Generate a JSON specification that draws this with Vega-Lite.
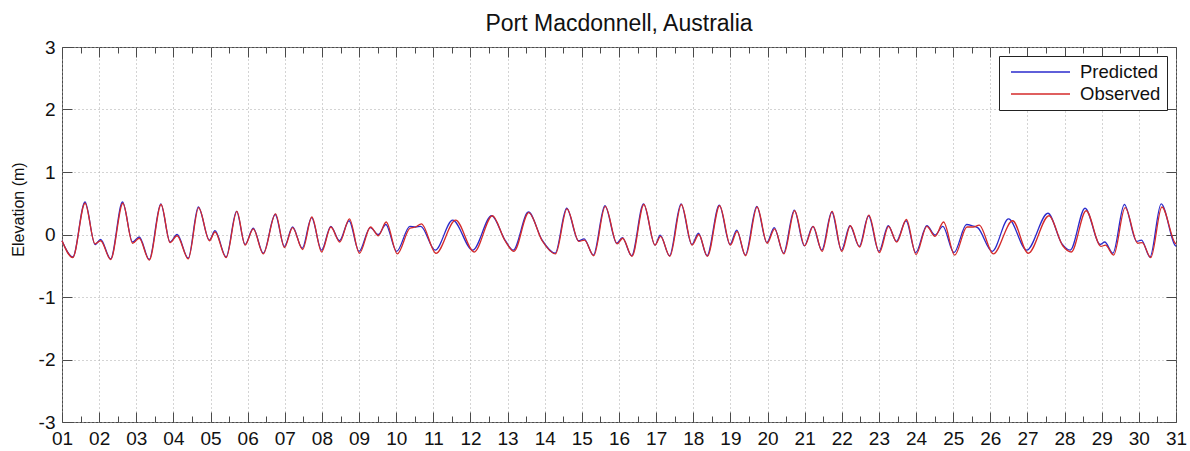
{
  "$schema": "https://vega.github.io/schema/vega-lite/v6.json",
  "width": 1114,
  "height": 375,
  "autosize": {"type": "none"},
  "padding": {"left": 62, "top": 47, "right": 14, "bottom": 29},
  "background": "white",
  "title": {"text": "Port Macdonnell, Australia", "fontSize": 23, "font": "Liberation Sans", "fontWeight": "normal", "color": "#111111", "offset": 2, "anchor": "middle", "frame": "group"},
  "config": {
    "font": "Liberation Sans",
    "view": {"stroke": "#4a4a4a", "strokeWidth": 1}
  },
  "datasets": {
    "pred": [
      {"t": 1.00, "v": -0.10}, {"t": 1.29, "v": -0.36}, {"t": 1.62, "v": 0.52}, {"t": 1.89, "v": -0.16}, {"t": 2.04, "v": -0.08},
      {"t": 2.31, "v": -0.39}, {"t": 2.63, "v": 0.52}, {"t": 2.90, "v": -0.12}, {"t": 3.08, "v": -0.04}, {"t": 3.35, "v": -0.40},
      {"t": 3.66, "v": 0.49}, {"t": 3.91, "v": -0.12}, {"t": 4.10, "v": 0.00}, {"t": 4.40, "v": -0.38}, {"t": 4.67, "v": 0.44},
      {"t": 4.97, "v": -0.09}, {"t": 5.12, "v": 0.06}, {"t": 5.42, "v": -0.36}, {"t": 5.70, "v": 0.37}, {"t": 5.93, "v": -0.16},
      {"t": 6.15, "v": 0.10}, {"t": 6.42, "v": -0.30}, {"t": 6.74, "v": 0.32}, {"t": 6.99, "v": -0.19}, {"t": 7.21, "v": 0.12},
      {"t": 7.47, "v": -0.22}, {"t": 7.72, "v": 0.27}, {"t": 7.99, "v": -0.25}, {"t": 8.24, "v": 0.13}, {"t": 8.47, "v": -0.10},
      {"t": 8.73, "v": 0.22}, {"t": 9.00, "v": -0.27}, {"t": 9.30, "v": 0.11}, {"t": 9.52, "v": 0.00}, {"t": 9.72, "v": 0.16},
      {"t": 10.01, "v": -0.27}, {"t": 10.37, "v": 0.13}, {"t": 10.52, "v": 0.12}, {"t": 10.66, "v": 0.13}, {"t": 11.05, "v": -0.25},
      {"t": 11.52, "v": 0.23}, {"t": 12.06, "v": -0.25}, {"t": 12.57, "v": 0.30}, {"t": 12.93, "v": -0.09}, {"t": 13.15, "v": -0.25},
      {"t": 13.56, "v": 0.36}, {"t": 13.93, "v": -0.09}, {"t": 14.28, "v": -0.30}, {"t": 14.59, "v": 0.42}, {"t": 14.91, "v": -0.10},
      {"t": 15.06, "v": -0.07}, {"t": 15.31, "v": -0.33}, {"t": 15.62, "v": 0.46}, {"t": 15.94, "v": -0.14}, {"t": 16.09, "v": -0.05},
      {"t": 16.34, "v": -0.34}, {"t": 16.66, "v": 0.49}, {"t": 16.97, "v": -0.17}, {"t": 17.11, "v": -0.01}, {"t": 17.36, "v": -0.34},
      {"t": 17.67, "v": 0.49}, {"t": 17.96, "v": -0.16}, {"t": 18.14, "v": 0.02}, {"t": 18.37, "v": -0.34}, {"t": 18.70, "v": 0.47},
      {"t": 18.99, "v": -0.16}, {"t": 19.17, "v": 0.07}, {"t": 19.40, "v": -0.33}, {"t": 19.71, "v": 0.45}, {"t": 19.98, "v": -0.13},
      {"t": 20.18, "v": 0.11}, {"t": 20.43, "v": -0.30}, {"t": 20.72, "v": 0.39}, {"t": 20.99, "v": -0.18}, {"t": 21.22, "v": 0.13},
      {"t": 21.46, "v": -0.25}, {"t": 21.73, "v": 0.36}, {"t": 21.99, "v": -0.25}, {"t": 22.22, "v": 0.14}, {"t": 22.47, "v": -0.19},
      {"t": 22.72, "v": 0.30}, {"t": 23.00, "v": -0.27}, {"t": 23.25, "v": 0.14}, {"t": 23.47, "v": -0.11}, {"t": 23.73, "v": 0.22},
      {"t": 23.99, "v": -0.29}, {"t": 24.29, "v": 0.14}, {"t": 24.51, "v": -0.01}, {"t": 24.72, "v": 0.13}, {"t": 25.02, "v": -0.29},
      {"t": 25.36, "v": 0.16}, {"t": 25.52, "v": 0.14}, {"t": 25.66, "v": 0.11}, {"t": 26.05, "v": -0.27}, {"t": 26.49, "v": 0.25},
      {"t": 26.98, "v": -0.25}, {"t": 27.55, "v": 0.34}, {"t": 27.93, "v": -0.15}, {"t": 28.15, "v": -0.25}, {"t": 28.55, "v": 0.42},
      {"t": 28.96, "v": -0.16}, {"t": 29.08, "v": -0.12}, {"t": 29.30, "v": -0.30}, {"t": 29.61, "v": 0.48}, {"t": 29.94, "v": -0.11},
      {"t": 30.07, "v": -0.09}, {"t": 30.30, "v": -0.36}, {"t": 30.60, "v": 0.49}, {"t": 30.97, "v": -0.17}, {"t": 31.00, "v": -0.19}
    ],
    "obs": [
      {"t": 1.00, "v": -0.10}, {"t": 1.29, "v": -0.37}, {"t": 1.62, "v": 0.50}, {"t": 1.89, "v": -0.15}, {"t": 2.04, "v": -0.10},
      {"t": 2.31, "v": -0.40}, {"t": 2.64, "v": 0.50}, {"t": 2.90, "v": -0.14}, {"t": 3.08, "v": -0.06}, {"t": 3.35, "v": -0.41},
      {"t": 3.67, "v": 0.48}, {"t": 3.91, "v": -0.13}, {"t": 4.10, "v": -0.02}, {"t": 4.40, "v": -0.39}, {"t": 4.68, "v": 0.43},
      {"t": 4.97, "v": -0.10}, {"t": 5.12, "v": 0.04}, {"t": 5.42, "v": -0.37}, {"t": 5.71, "v": 0.37}, {"t": 5.93, "v": -0.17},
      {"t": 6.15, "v": 0.09}, {"t": 6.42, "v": -0.31}, {"t": 6.75, "v": 0.33}, {"t": 6.99, "v": -0.21}, {"t": 7.21, "v": 0.11},
      {"t": 7.48, "v": -0.24}, {"t": 7.73, "v": 0.28}, {"t": 7.99, "v": -0.28}, {"t": 8.24, "v": 0.12}, {"t": 8.48, "v": -0.12},
      {"t": 8.74, "v": 0.25}, {"t": 9.01, "v": -0.30}, {"t": 9.31, "v": 0.12}, {"t": 9.52, "v": -0.02}, {"t": 9.73, "v": 0.20},
      {"t": 10.03, "v": -0.31}, {"t": 10.37, "v": 0.10}, {"t": 10.52, "v": 0.12}, {"t": 10.68, "v": 0.17}, {"t": 11.07, "v": -0.30},
      {"t": 11.60, "v": 0.23}, {"t": 12.10, "v": -0.28}, {"t": 12.59, "v": 0.30}, {"t": 12.93, "v": -0.10}, {"t": 13.17, "v": -0.27},
      {"t": 13.57, "v": 0.35}, {"t": 13.93, "v": -0.10}, {"t": 14.29, "v": -0.31}, {"t": 14.60, "v": 0.41}, {"t": 14.92, "v": -0.11},
      {"t": 15.07, "v": -0.09}, {"t": 15.32, "v": -0.34}, {"t": 15.63, "v": 0.45}, {"t": 15.95, "v": -0.15}, {"t": 16.10, "v": -0.06},
      {"t": 16.35, "v": -0.35}, {"t": 16.67, "v": 0.48}, {"t": 16.97, "v": -0.17}, {"t": 17.12, "v": -0.03}, {"t": 17.37, "v": -0.35},
      {"t": 17.68, "v": 0.48}, {"t": 17.97, "v": -0.17}, {"t": 18.15, "v": 0.00}, {"t": 18.38, "v": -0.35}, {"t": 18.71, "v": 0.46},
      {"t": 19.00, "v": -0.17}, {"t": 19.18, "v": 0.05}, {"t": 19.41, "v": -0.34}, {"t": 19.72, "v": 0.44}, {"t": 19.99, "v": -0.14},
      {"t": 20.19, "v": 0.09}, {"t": 20.44, "v": -0.31}, {"t": 20.73, "v": 0.38}, {"t": 21.00, "v": -0.18}, {"t": 21.23, "v": 0.13},
      {"t": 21.47, "v": -0.27}, {"t": 21.74, "v": 0.37}, {"t": 22.00, "v": -0.27}, {"t": 22.23, "v": 0.14}, {"t": 22.48, "v": -0.20},
      {"t": 22.73, "v": 0.31}, {"t": 23.01, "v": -0.29}, {"t": 23.26, "v": 0.13}, {"t": 23.48, "v": -0.12}, {"t": 23.74, "v": 0.24},
      {"t": 24.00, "v": -0.32}, {"t": 24.29, "v": 0.13}, {"t": 24.51, "v": -0.03}, {"t": 24.74, "v": 0.20}, {"t": 25.04, "v": -0.33},
      {"t": 25.37, "v": 0.12}, {"t": 25.54, "v": 0.12}, {"t": 25.70, "v": 0.15}, {"t": 26.08, "v": -0.31}, {"t": 26.60, "v": 0.22},
      {"t": 27.02, "v": -0.30}, {"t": 27.58, "v": 0.30}, {"t": 27.95, "v": -0.18}, {"t": 28.18, "v": -0.28}, {"t": 28.58, "v": 0.38},
      {"t": 28.98, "v": -0.19}, {"t": 29.10, "v": -0.17}, {"t": 29.32, "v": -0.33}, {"t": 29.63, "v": 0.43}, {"t": 29.97, "v": -0.14},
      {"t": 30.09, "v": -0.13}, {"t": 30.32, "v": -0.37}, {"t": 30.62, "v": 0.44}, {"t": 30.98, "v": -0.14}, {"t": 31.00, "v": -0.15}
    ]
  },
  "layer": [
    {
      "data": {"name": "pred"},
      "mark": {"type": "line", "interpolate": "monotone", "strokeWidth": 1.3},
      "encoding": {
        "x": {
          "field": "t", "type": "quantitative",
          "scale": {"domain": [1, 31], "nice": false, "zero": false},
          "axis": {
            "orient": "bottom", "title": null,
            "values": [1,1.5,2,2.5,3,3.5,4,4.5,5,5.5,6,6.5,7,7.5,8,8.5,9,9.5,10,10.5,11,11.5,12,12.5,13,13.5,14,14.5,15,15.5,16,16.5,17,17.5,18,18.5,19,19.5,20,20.5,21,21.5,22,22.5,23,23.5,24,24.5,25,25.5,26,26.5,27,27.5,28,28.5,29,29.5,30,30.5,31],
            "labelExpr": "datum.value % 1 !== 0 ? '' : (datum.value < 10 ? '0' : '') + datum.value",
            "labelFontSize": 19, "labelColor": "#111111", "labelPadding": 17,
            "labelFlush": false, "labelOverlap": false, "labelBound": false,
            "domain": false,
            "tickSize": {"condition": {"test": "datum.value % 1 === 0", "value": -10}, "value": -6},
            "tickColor": "#4a4a4a", "tickWidth": 1,
            "grid": true, "gridDash": [1, 3], "gridColor": "#a8a8a8", "gridWidth": 1,
            "gridOpacity": {"condition": {"test": "datum.value % 1 === 0", "value": 1}, "value": 0}
          }
        },
        "y": {
          "field": "v", "type": "quantitative",
          "scale": {"domain": [-3, 3], "nice": false, "zero": false},
          "axis": {
            "orient": "left", "title": "Elevation (m)",
            "values": [-3, -2, -1, 0, 1, 2, 3],
            "labelExpr": "'' + datum.value",
            "labelFontSize": 19, "labelColor": "#111111", "labelPadding": 17, "labelFlush": false,
            "domain": false, "tickSize": -10, "tickColor": "#4a4a4a",
            "grid": true, "gridDash": [1, 3], "gridColor": "#a8a8a8", "gridWidth": 1,
            "titleFontSize": 16, "titleFontWeight": "normal", "titleColor": "#111111",
            "titlePadding": 12, "titleY": 162
          }
        },
        "color": {
          "datum": "Predicted",
          "scale": {"domain": ["Predicted", "Observed"], "range": ["#2a2acc", "#d42a2a"]},
          "legend": {
            "title": null, "orient": "top-right", "offset": 9, "padding": 6,
            "strokeColor": "#222222", "fillColor": "white",
            "symbolType": "stroke", "symbolSize": 3481, "symbolStrokeWidth": 1.3,
            "symbolOffset": 5, "clipHeight": 20,
            "labelFontSize": 18.5, "labelColor": "#111111", "labelOffset": 9, "rowPadding": 2
          }
        }
      }
    },
    {
      "data": {"name": "obs"},
      "mark": {"type": "line", "interpolate": "monotone", "strokeWidth": 1.3},
      "encoding": {
        "x": {
          "field": "t", "type": "quantitative",
          "axis": {
            "orient": "top", "title": null, "labels": false, "grid": false, "domain": false,
            "values": [1,1.5,2,2.5,3,3.5,4,4.5,5,5.5,6,6.5,7,7.5,8,8.5,9,9.5,10,10.5,11,11.5,12,12.5,13,13.5,14,14.5,15,15.5,16,16.5,17,17.5,18,18.5,19,19.5,20,20.5,21,21.5,22,22.5,23,23.5,24,24.5,25,25.5,26,26.5,27,27.5,28,28.5,29,29.5,30,30.5,31],
            "tickSize": {"condition": {"test": "datum.value % 1 === 0", "value": -10}, "value": -6},
            "tickColor": "#4a4a4a"
          }
        },
        "y": {
          "field": "v", "type": "quantitative",
          "axis": {
            "orient": "right", "title": null, "labels": false, "grid": false, "domain": false,
            "values": [-3, -2, -1, 0, 1, 2, 3], "tickSize": -10, "tickColor": "#4a4a4a"
          }
        },
        "color": {"datum": "Observed"}
      }
    }
  ],
  "resolve": {"axis": {"x": "independent", "y": "independent"}}
}
